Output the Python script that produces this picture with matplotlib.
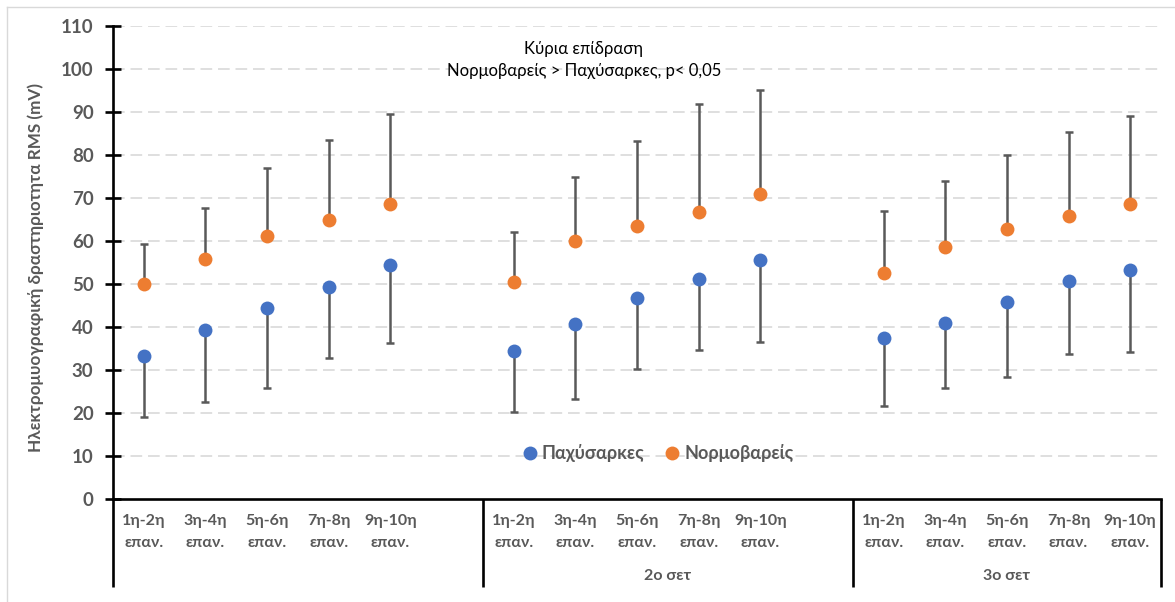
import matplotlib
matplotlib.use("Agg")
import matplotlib.pyplot as plt
from matplotlib.lines import Line2D
import numpy as np

plt.rcParams['font.family'] = ['Lato', 'DejaVu Sans']

# ---- data -------------------------------------------------------------
reps = ["1η-2η\nεπαν.", "3η-4η\nεπαν.", "5η-6η\nεπαν.", "7η-8η\nεπαν.", "9η-10η\nεπαν."]
sets = ["", "2ο σετ", "3ο σετ"]

obese_mean = [33.3, 39.3, 44.4, 49.2, 54.4,
              34.5, 40.6, 46.7, 51.2, 55.6,
              37.4, 41.0, 45.7, 50.8, 53.3]
obese_sd = [14.2, 16.7, 18.6, 16.3, 18.2,
            14.3, 17.4, 16.5, 16.6, 19.1,
            15.7, 15.2, 17.4, 17.1, 19.2]

normal_mean = [50.0, 55.7, 61.2, 64.9, 68.6,
               50.5, 60.0, 63.6, 66.7, 70.9,
               52.6, 58.6, 62.8, 65.9, 68.7]
normal_sd = [9.3, 12.0, 15.7, 18.5, 20.9,
             11.7, 15.0, 19.6, 25.2, 24.2,
             14.3, 15.4, 17.3, 19.4, 20.4]

series_names = ["Παχύσαρκες", "Νορμοβαρείς"]
ylabel = "Ηλεκτρομυογραφική δραστηριοτητα RMS (mV)"
note = "Κύρια επίδραση\nΝορμοβαρείς > Παχύσαρκες, p< 0,05"

# ---- layout -----------------------------------------------------------
W, H = 1175, 602
fig = plt.figure(figsize=(W / 100, H / 100), dpi=100)
ax_l, ax_r, ax_t, ax_b = 113, 1161, 26, 499
ax = fig.add_axes([ax_l / W, 1 - ax_b / H, (ax_r - ax_l) / W, (ax_b - ax_t) / H])

n_rep = len(reps)
slot = n_rep + 1                      # one empty slot between sets
x = np.array([g * slot + i for g in range(len(sets)) for i in range(n_rep)], float)
x_min, x_max = -0.5, len(sets) * slot - 1 - 0.5

BLUE = "#4472C4"
ORANGE = "#ED7D31"
GREY = "#595959"
TXT = "#595959"

ax.set_xlim(x_min, x_max)
ax.set_ylim(0, 110)
ax.set_yticks(np.arange(0, 111, 10))

# gridlines
for yv in np.arange(10, 111, 10):
    ax.axhline(yv, color="#D9D9D9", lw=1.2, ls=(0, (7, 3.5)), zorder=0)

# error bars: one-sided (obese downward, normal upward)
om, osd = np.array(obese_mean), np.array(obese_sd)
nm, nsd = np.array(normal_mean), np.array(normal_sd)
ax.errorbar(x, om, yerr=[osd, np.zeros_like(osd)], fmt="none", ecolor=GREY,
            elinewidth=1.8, capsize=3, capthick=1.8, zorder=2)
ax.errorbar(x, nm, yerr=[np.zeros_like(nsd), nsd], fmt="none", ecolor=GREY,
            elinewidth=1.8, capsize=3, capthick=1.8, zorder=2)
ax.plot(x, om, "o", color=BLUE, ms=10, mec="none", zorder=3, label=series_names[0])
ax.plot(x, nm, "o", color=ORANGE, ms=10, mec="none", zorder=3, label=series_names[1])

# spines
for s in ["top", "right", "bottom"]:
    ax.spines[s].set_visible(False)
ax.spines["left"].set_linewidth(1.9)
ax.spines["left"].set_color("black")
ax.axhline(0, color="black", lw=1.9, zorder=4, clip_on=False)

ax.tick_params(axis="y", direction="inout", length=12, width=1.9, color="black",
               labelsize=13.5, labelcolor=TXT, pad=8)
for lab in ax.get_yticklabels():
    lab.set_fontweight("bold")
ax.set_xticks([])

# vertical category separators below the axis
y_bot = (ax_b - 587) / (ax_b - ax_t)
xt = ax.get_xaxis_transform()
for xs in [x_min] + [g * slot - 0.5 for g in range(1, len(sets))] + [x_max]:
    ax.plot([xs, xs], [0, y_bot], color="black", lw=1.9, transform=xt,
            clip_on=False, solid_capstyle="butt")

# category labels
def ay(py):
    return (ax_b - py) / (ax_b - ax_t)

for k, xi in enumerate(x):
    l1, l2 = reps[k % n_rep].split("\n")
    ax.text(xi, ay(521.5), l1, transform=xt, ha="center", va="center",
            fontsize=11.5, fontweight="bold", color=TXT)
    ax.text(xi, ay(543), l2, transform=xt, ha="center", va="center",
            fontsize=11.5, fontweight="bold", color=TXT)
for g, name in enumerate(sets):
    left = g * slot - 0.5
    right = min(left + slot, x_max)
    ax.text((left + right) / 2, ay(576), name, transform=xt, ha="center",
            va="center", fontsize=11.5, fontweight="bold", color=TXT)

# y axis title
fig.text(36 / W, 1 - 268 / H, ylabel, rotation=90, ha="center", va="center",
         fontsize=12.3, fontweight="bold", color=TXT)

# annotation
fig.text(584 / W, 1 - 60 / H, note, ha="center", va="center",
         fontsize=12, color="black", linespacing=1.45)

# legend
leg = ax.legend(loc="center", bbox_to_anchor=(659 / W, 1 - 453 / H),
                bbox_transform=fig.transFigure, ncol=2, frameon=False,
                handlelength=0.6, handletextpad=0.35, columnspacing=1.25,
                prop={"size": 13, "weight": "bold"})
for t in leg.get_texts():
    t.set_color(TXT)

# outer chart border
fig.add_artist(Line2D([7 / W, 7 / W], [0, 1 - 7 / H], color="#D9D9D9", lw=1))
fig.add_artist(Line2D([7 / W, 1], [1 - 7 / H, 1 - 7 / H], color="#D9D9D9", lw=1))

fig.savefig("out.png", dpi=100)
